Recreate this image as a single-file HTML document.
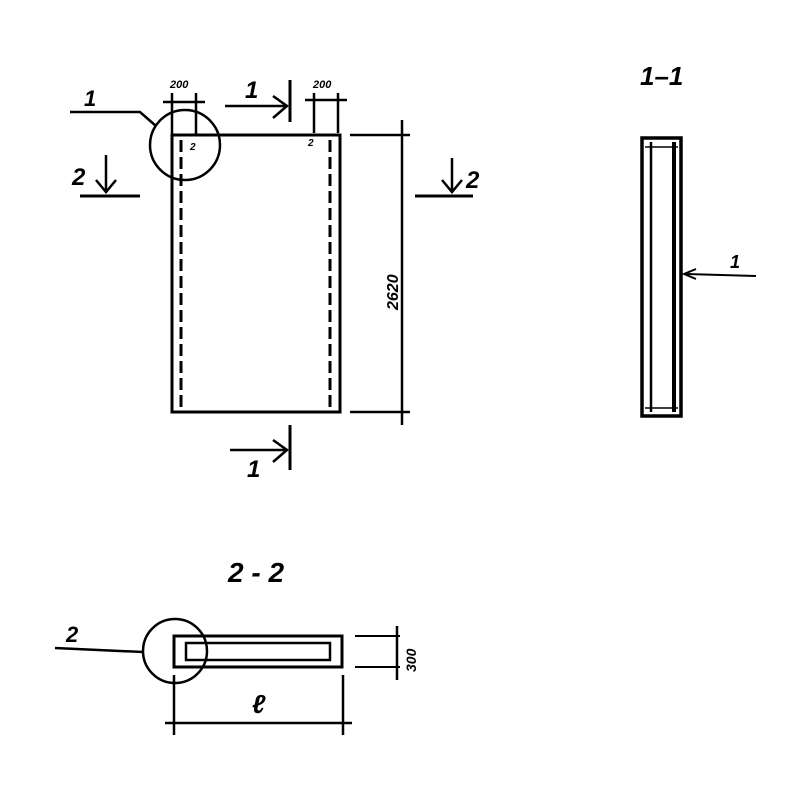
<!DOCTYPE html>
<html><head><style>body{margin:0;background:#fff}svg{display:block}text{font-family:"Liberation Sans",sans-serif;font-style:italic;font-weight:bold;fill:#000}</style></head>
<body>
<svg width="800" height="800" viewBox="0 0 800 800" xmlns="http://www.w3.org/2000/svg" stroke="#000" fill="none">
<!-- main panel -->
<rect x="172" y="135" width="168" height="277" stroke-width="3"/>
<line x1="181" y1="140" x2="181" y2="408" stroke-width="3" stroke-dasharray="12,5"/>
<line x1="330" y1="140" x2="330" y2="408" stroke-width="3" stroke-dasharray="12,5"/>
<circle cx="185" cy="145" r="35" stroke-width="2.5"/>
<polyline points="70,112 140,112 156,126" stroke-width="2.5"/>
<text x="84" y="106" font-size="22" stroke="none">1</text>
<!-- 200 dims -->
<line x1="172" y1="93" x2="172" y2="135" stroke-width="2.5"/>
<line x1="196" y1="93" x2="196" y2="135" stroke-width="2.5"/>
<line x1="163" y1="102" x2="205" y2="102" stroke-width="2.5"/>
<text x="170" y="88" font-size="11" stroke="none">200</text>
<line x1="314" y1="93" x2="314" y2="133" stroke-width="2.5"/>
<line x1="338" y1="93" x2="338" y2="133" stroke-width="2.5"/>
<line x1="305" y1="100" x2="347" y2="100" stroke-width="2.5"/>
<text x="313" y="88" font-size="11" stroke="none">200</text>
<text x="190" y="150" font-size="10" stroke="none">2</text>
<text x="308" y="146" font-size="10" stroke="none">2</text>
<!-- section 1 arrows -->
<line x1="225" y1="106" x2="287" y2="106" stroke-width="2.5"/>
<polyline points="273,96 287,106 273,118" stroke-width="2.5"/>
<line x1="290" y1="80" x2="290" y2="122" stroke-width="3"/>
<text x="245" y="98" font-size="24" stroke="none">1</text>
<line x1="230" y1="450" x2="287" y2="450" stroke-width="2.5"/>
<polyline points="273,440 287,450 273,462" stroke-width="2.5"/>
<line x1="290" y1="425" x2="290" y2="470" stroke-width="3"/>
<text x="247" y="477" font-size="24" stroke="none">1</text>
<!-- section 2 arrows -->
<line x1="80" y1="196" x2="140" y2="196" stroke-width="3"/>
<line x1="106" y1="155" x2="106" y2="192" stroke-width="2.5"/>
<polyline points="96,180 106,192 116,180" stroke-width="2.5"/>
<text x="72" y="185" font-size="24" stroke="none" font-style="normal">2</text>
<line x1="415" y1="196" x2="473" y2="196" stroke-width="3"/>
<line x1="452" y1="158" x2="452" y2="192" stroke-width="2.5"/>
<polyline points="442,180 452,192 462,180" stroke-width="2.5"/>
<text x="466" y="188" font-size="24" stroke="none" font-style="normal">2</text>
<!-- 2620 dim -->
<line x1="350" y1="135" x2="410" y2="135" stroke-width="2.5"/>
<line x1="350" y1="412" x2="410" y2="412" stroke-width="2.5"/>
<line x1="402" y1="120" x2="402" y2="425" stroke-width="2.5"/>
<text transform="translate(398,310) rotate(-90)" font-size="16" stroke="none">2620</text>
<!-- 1-1 -->
<text x="640" y="85" font-size="26" stroke="none">1–1</text>
<rect x="642" y="138" width="39" height="278" stroke-width="3.5"/>
<line x1="651" y1="142" x2="651" y2="412" stroke-width="2.5"/>
<line x1="674" y1="142" x2="674" y2="412" stroke-width="4"/>
<line x1="645" y1="147" x2="678" y2="147" stroke-width="1.5"/>
<line x1="645" y1="408" x2="678" y2="408" stroke-width="1.5"/>
<line x1="686" y1="274" x2="756" y2="276" stroke-width="2"/>
<polyline points="696,269 684,274 696,279" stroke-width="2"/>
<text x="730" y="268" font-size="18" stroke="none">1</text>
<!-- 2-2 -->
<text x="228" y="582" font-size="28" stroke="none" font-style="normal">2 - 2</text>
<rect x="174" y="636" width="168" height="31" stroke-width="3"/>
<rect x="186" y="643" width="144" height="17" stroke-width="2.5"/>
<circle cx="175" cy="651" r="32" stroke-width="2.5"/>
<line x1="55" y1="648" x2="143" y2="652" stroke-width="2.5"/>
<text x="66" y="642" font-size="22" stroke="none" font-style="normal">2</text>
<line x1="355" y1="636" x2="400" y2="636" stroke-width="2"/>
<line x1="355" y1="667" x2="400" y2="667" stroke-width="2"/>
<line x1="397" y1="626" x2="397" y2="680" stroke-width="2.5"/>
<text transform="translate(416,672) rotate(-90)" font-size="14" stroke="none">300</text>
<line x1="174" y1="675" x2="174" y2="735" stroke-width="2.5"/>
<line x1="343" y1="675" x2="343" y2="735" stroke-width="2.5"/>
<line x1="165" y1="723" x2="352" y2="723" stroke-width="2.5"/>
<text x="252" y="713" font-size="26" stroke="none">ℓ</text>
</svg>
</body></html>
